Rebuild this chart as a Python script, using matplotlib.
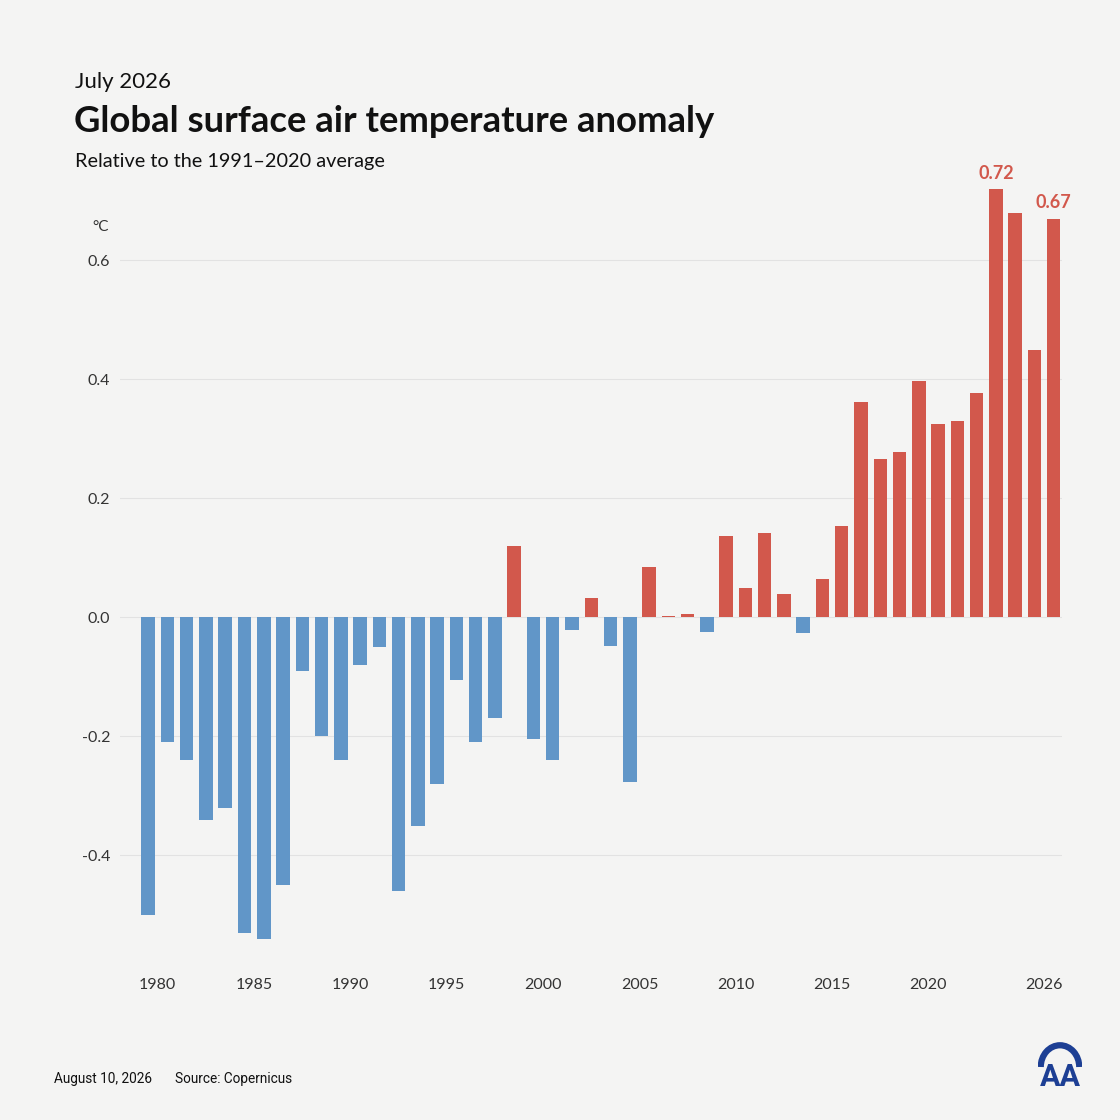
import numpy as np
import matplotlib
matplotlib.use("Agg")
from matplotlib import pyplot as plt
from matplotlib.patches import Arc

# Dane: anomalia temperatury lipca (°C) względem 1991-2020
years = list(range(1979, 2027))
anomaly = [-0.50, -0.21, -0.24, -0.34, -0.32, -0.53, -0.54, -0.45, -0.09, -0.20,
           -0.24, -0.08, -0.05, -0.46, -0.35, -0.28, -0.105, -0.21, -0.17, 0.12,
           -0.205, -0.24, -0.021, 0.032, -0.048, -0.277, 0.084, 0.002, 0.005, -0.025,
           0.137, 0.050, 0.142, 0.039, -0.026, 0.065, 0.153, 0.361, 0.266, 0.278,
           0.397, 0.325, 0.330, 0.377, 0.72, 0.68, 0.45, 0.67]
tick_years = [1980, 1985, 1990, 1995, 2000, 2005, 2010, 2015, 2020, 2026]
y_ticks = [-0.4, -0.2, 0.0, 0.2, 0.4, 0.6]
labelled = {2023: "0.72", 2026: "0.67"}

blue = "#6196c8"
red = "#d2584c"
bg = "#f4f4f3"
font = "Lato"

fig = plt.figure(figsize=(11.2, 11.2), dpi=100, facecolor=bg)
ax = fig.add_axes([0.107, 0.1301, 0.841, 0.7172])
ax.set_facecolor("none")

x = np.array(years) + 0.5
vals = np.array(anomaly)
colors = [red if v > 0 else blue for v in vals]
ax.bar(x, vals, width=0.7, color=colors, zorder=3)

for yr, txt in labelled.items():
    v = anomaly[years.index(yr)]
    ax.text(yr + 0.5, v + 0.012, txt, ha="center", va="bottom", color=red,
            fontsize=13, fontweight="bold", family=font)

ax.set_xlim(1978.03, 2026.92)
ax.set_ylim(-0.6, 0.75)
ax.set_yticks(y_ticks)
ax.set_yticklabels([f"{t:.1f}" for t in y_ticks], family=font, fontsize=11.5, color="#333333")
ax.set_xticks(tick_years)
ax.set_xticklabels([str(t) for t in tick_years], family=font, fontsize=11.5, color="#333333")
ax.tick_params(axis="both", length=0)
ax.tick_params(axis="y", pad=7)
ax.tick_params(axis="x", pad=3)
for s in ax.spines.values():
    s.set_visible(False)
ax.grid(axis="y", color="#e2e2e2", linewidth=0.8, zorder=0)

# Teksty
fig.text(75 / 1120, 1 - 82 / 1120, "July 2026", family=font, fontsize=16, va="center", color="#111111")
fig.text(74 / 1120, 1 - 121 / 1120, "Global surface air temperature anomaly", family=font,
         fontsize=26.3, fontweight="bold", va="center", color="#111111")
fig.text(75 / 1120, 1 - 161 / 1120, "Relative to the 1991\u20132020 average", family=font,
         fontsize=14.3, va="center", color="#111111")
fig.text(101 / 1120, 1 - 227 / 1120, "°C", family=font, fontsize=11, ha="center", va="center", color="#333333")
fig.text(54 / 1120, 1 - 1079 / 1120, "August 10, 2026", family="Roboto", fontsize=9.8, va="center", color="#111111")
fig.text(175 / 1120, 1 - 1079 / 1120, "Source: Copernicus", family="Roboto", fontsize=9.8, va="center", color="#111111")

# Logo AA
lax = fig.add_axes([1038 / 1120, 1 - 1092 / 1120, 44 / 1120, 50 / 1120])
lax.set_xlim(-1, 1)
lax.set_ylim(-1.15, 1.15)
lax.axis("off")
lax.add_patch(Arc((0, 0.0), 1.75, 2.0, theta1=0, theta2=180, color="#1d3f94", lw=4.5))
lax.text(0, -0.45, "AA", ha="center", va="center", fontsize=22, fontweight="bold",
         color="#1d3f94", family="Roboto")

fig.savefig("out.png", dpi=100, facecolor=bg)
